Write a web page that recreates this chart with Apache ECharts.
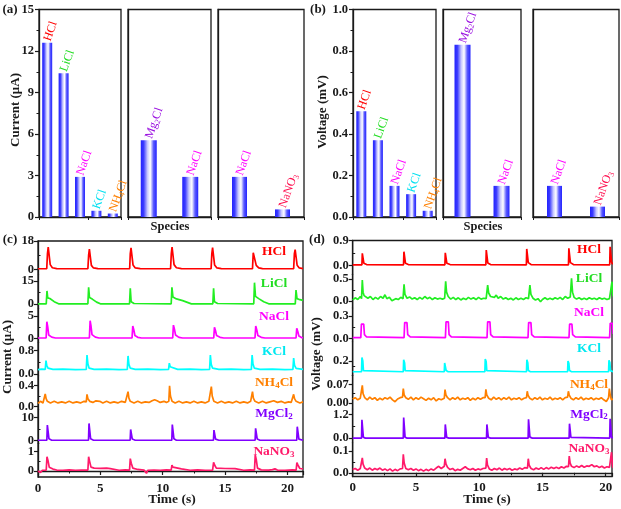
<!DOCTYPE html>
<html><head><meta charset="utf-8">
<script src="https://cdn.jsdelivr.net/npm/echarts@6/dist/echarts.min.js"></script>
<style>html,body{margin:0;padding:0;background:#fff}#c{width:621px;height:509px}</style>
</head><body><div id="c"></div>
<script>
// ---------- DATA ----------
const catsA1 = ['HCl','LiCl','NaCl','KCl','NH4Cl'];
const catsA2 = ['Mg2Cl','NaCl'];
const catsA3 = ['NaCl','NaNO3'];
const currentA1 = [12.6,10.4,2.9,0.45,0.25];
const currentA2 = [5.55,2.9];
const currentA3 = [2.9,0.55];
const voltageB1 = [0.51,0.37,0.15,0.11,0.03];
const voltageB2 = [0.83,0.15];
const voltageB3 = [0.15,0.05];

const traceNames = ['HCl','LiCl','NaCl','KCl','NH4Cl','MgCl2','NaNO3'];
const cTopTicks = [18,15,5,0.8,0.4,10,1];
const cTickText = [['0','18'],['0','15'],['0','5'],['0.0','0.8'],['0.0','0.4'],['0','10'],['0','1']];
const dTopTicks = [0.9,0.5,0.3,0.2,0.07,1.2,0.1];
const dTickText = [['0.0','0.9'],['0.0','0.5'],['0.0','0.3'],['0.0','0.2'],['0.00','0.07'],['0.0','1.2'],['0.0','0.1']];

// current traces (µA) vs time (s)
const cHCl = [[0,0.4],[0.7,0.4],[0.76,10],[0.82,14.2],[0.9,13.5],[0.98,3],[1.15,1],[1.5,0.5],[4.0,0.4],[4.06,9],[4.12,12.8],[4.2,12.2],[4.28,2.5],[4.45,0.9],[4.8,0.5],[7.35,0.4],[7.4,10],[7.46,13.6],[7.54,12.8],[7.62,2.8],[7.8,0.9],[8.2,0.5],[10.63,0.4],[10.69,10],[10.75,14.2],[10.83,13.5],[10.91,3],[11.1,1],[11.5,0.5],[13.88,0.4],[13.94,10],[14.0,13.8],[14.08,13.1],[14.16,2.8],[14.35,0.9],[14.7,0.5],[17.2,0.4],[17.26,10.5],[17.32,11.1],[17.42,10.8],[17.5,2.5],[17.7,0.9],[18.0,0.5],[20.5,0.4],[20.56,10],[20.62,12.5],[20.7,11.8],[20.78,2.6],[20.95,0.9],[21.25,0.5]];
const cLiCl = [[0,0.1],[0.66,0.1],[0.72,8.5],[0.78,4],[0.95,3.6],[1.3,1.5],[1.65,0.1],[4.0,0.1],[4.06,10.9],[4.13,4.2],[4.35,3.2],[4.7,1.2],[5.0,0.1],[7.34,0.1],[7.4,10.2],[7.47,1.5],[7.7,0.3],[10.68,0.1],[10.74,10.9],[10.82,4.5],[11.1,3.3],[11.6,2.2],[12.3,0.1],[14.02,0.1],[14.08,10.2],[14.15,1.5],[14.4,0.3],[17.3,0.1],[17.36,13.9],[17.44,5],[17.7,3.5],[18.1,1.5],[18.5,0.1],[20.63,0.1],[20.69,9.1],[20.77,3.5],[21.0,2.8],[21.25,2.4]];
const cNaCl = [[0,0.15],[0.65,0.15],[0.71,3.75],[0.78,2.6],[0.86,0.8],[1.1,0.35],[1.4,0.15],[4.12,0.15],[4.18,3.97],[4.25,2.8],[4.33,0.9],[4.6,0.35],[4.9,0.15],[7.54,0.15],[7.6,2.8],[7.68,2],[7.77,0.7],[8.0,0.3],[8.3,0.15],[10.8,0.15],[10.86,3.0],[10.94,2.1],[11.03,0.8],[11.3,0.3],[11.6,0.15],[14.09,0.15],[14.15,2.5],[14.23,1.8],[14.32,0.7],[14.6,0.3],[14.9,0.15],[17.4,0.15],[17.46,2.8],[17.54,2],[17.63,0.7],[17.9,0.3],[18.2,0.15],[20.69,0.15],[20.75,2.3],[20.83,1.6],[20.92,0.6],[21.1,0.3],[21.25,0.15]];
const cKCl = [[0,0.15],[0.3,0.17],[0.58,0.16],[0.64,0.46],[0.7,0.3],[0.8,0.2],[1.2,0.16],[2.0,0.17],[3.0,0.15],[3.87,0.16],[3.93,0.65],[4.0,0.35],[4.1,0.2],[4.5,0.16],[5.5,0.17],[6.5,0.15],[7.16,0.16],[7.22,0.62],[7.29,0.33],[7.4,0.2],[7.8,0.16],[8.8,0.17],[9.8,0.15],[10.47,0.16],[10.53,0.37],[10.6,0.25],[10.7,0.19],[11.2,0.16],[12.2,0.17],[13.1,0.15],[13.76,0.16],[13.82,0.65],[13.89,0.33],[14.0,0.2],[14.5,0.16],[15.5,0.17],[16.5,0.15],[17.11,0.16],[17.17,0.65],[17.24,0.34],[17.35,0.2],[17.8,0.16],[18.8,0.17],[19.8,0.15],[20.44,0.16],[20.5,0.55],[20.57,0.3],[20.7,0.19],[21.25,0.16]];
const cNH4Cl = [[0,0.06],[0.2,0.1],[0.4,0.07],[0.52,0.09],[0.58,0.24],[0.65,0.15],[0.75,0.1],[1.0,0.07],[1.3,0.1],[1.6,0.07],[1.9,0.09],[2.2,0.07],[2.5,0.1],[2.8,0.07],[3.1,0.09],[3.4,0.07],[3.7,0.1],[3.87,0.09],[3.93,0.23],[4.0,0.15],[4.15,0.1],[4.4,0.08],[4.65,0.11],[4.8,0.14],[4.95,0.1],[5.2,0.07],[5.5,0.1],[5.8,0.07],[6.1,0.09],[6.4,0.07],[6.7,0.1],[7.0,0.08],[7.16,0.09],[7.22,0.28],[7.29,0.16],[7.4,0.1],[7.7,0.07],[8.0,0.1],[8.3,0.07],[8.6,0.09],[8.9,0.08],[9.15,0.11],[9.35,0.13],[9.55,0.11],[9.8,0.08],[10.1,0.1],[10.3,0.08],[10.49,0.1],[10.55,0.39],[10.62,0.2],[10.75,0.1],[11.0,0.07],[11.3,0.1],[11.6,0.07],[11.9,0.09],[12.2,0.07],[12.5,0.1],[12.8,0.07],[13.1,0.09],[13.4,0.07],[13.7,0.1],[13.84,0.09],[13.9,0.375],[13.97,0.2],[14.1,0.1],[14.4,0.07],[14.7,0.1],[15.0,0.07],[15.3,0.09],[15.6,0.07],[15.9,0.1],[16.2,0.07],[16.5,0.09],[16.8,0.07],[17.05,0.1],[17.14,0.09],[17.2,0.28],[17.27,0.16],[17.4,0.1],[17.7,0.07],[18.0,0.1],[18.3,0.07],[18.6,0.09],[18.9,0.11],[19.2,0.08],[19.5,0.1],[19.8,0.07],[20.1,0.09],[20.3,0.08],[20.44,0.09],[20.5,0.23],[20.57,0.15],[20.7,0.1],[21.0,0.07],[21.25,0.09]];
const cMgCl2 = [[0,0.2],[0.71,0.2],[0.75,6.8],[0.83,6.3],[0.88,0.8],[1.1,0.2],[4.05,0.2],[4.09,7.5],[4.17,7],[4.22,0.8],[4.45,0.2],[7.39,0.2],[7.43,4.9],[7.51,4.5],[7.56,0.7],[7.8,0.2],[10.73,0.2],[10.77,7.0],[10.85,6.5],[10.9,0.8],[11.1,0.2],[14.07,0.2],[14.11,4.6],[14.19,4.2],[14.24,0.7],[14.5,0.2],[17.41,0.2],[17.45,5.4],[17.53,5.0],[17.58,0.7],[17.8,0.2],[20.75,0.2],[20.79,6.1],[20.87,5.7],[20.92,0.7],[21.25,0.2]];
const cNaNO3 = [[0,0.0],[0.2,-0.08],[0.35,0.04],[0.66,0.05],[0.72,0.74],[0.8,0.55],[0.9,0.2],[1.2,0.1],[1.5,0.05],[2.0,0.04],[2.5,0.06],[3.0,0.04],[3.5,0.05],[4.0,0.05],[4.06,0.74],[4.14,0.5],[4.25,0.2],[4.5,0.15],[5.0,0.14],[5.5,0.15],[5.8,0.12],[5.9,0.05],[6.5,0.04],[7.0,0.06],[7.34,0.05],[7.4,0.64],[7.48,0.4],[7.6,0.15],[8.0,0.08],[8.5,0.05],[8.7,-0.12],[8.8,0.04],[9.3,0.05],[9.8,0.04],[10.3,0.06],[10.68,0.05],[10.74,0.31],[10.82,0.2],[10.95,0.12],[11.5,0.11],[11.6,0.05],[12.2,0.04],[12.8,0.06],[13.4,0.04],[14.0,0.05],[14.08,0.45],[14.17,0.3],[14.3,0.15],[15.0,0.13],[15.8,0.12],[15.9,0.05],[16.5,0.04],[17.0,0.06],[17.36,0.05],[17.42,0.83],[17.5,0.6],[17.6,0.15],[17.9,0.06],[18.5,0.05],[18.8,0.07],[19.0,0.11],[19.2,0.05],[19.8,0.04],[20.4,0.06],[20.7,0.05],[20.76,0.43],[20.85,0.3],[21.0,0.13],[21.25,0.11]];

// voltage traces (mV) vs time (s)
const dHCl = [[0,0.02],[0.73,0.02],[0.76,0.44],[0.84,0.42],[0.88,0.08],[1.1,0.03],[4.02,0.02],[4.05,0.5],[4.13,0.48],[4.17,0.08],[4.4,0.03],[7.29,0.02],[7.32,0.46],[7.4,0.44],[7.44,0.08],[7.7,0.03],[10.53,0.02],[10.56,0.56],[10.64,0.53],[10.68,0.09],[10.9,0.03],[13.73,0.02],[13.76,0.6],[13.84,0.57],[13.88,0.1],[14.1,0.03],[17.06,0.02],[17.09,0.62],[17.17,0.59],[17.21,0.1],[17.45,0.03],[20.32,0.02],[20.35,0.68],[20.43,0.64],[20.47,0.1],[20.6,0.04]];
const dLiCl = [[0,0.02],[0.2,0.07],[0.4,0.03],[0.6,0.1],[0.7,0.05],[0.76,0.48],[0.82,0.2],[0.9,0.12],[1.05,0.15],[1.2,0.06],[1.4,0.1],[1.6,0.03],[1.8,0.08],[2.0,0.04],[2.2,0.1],[2.4,0.06],[2.55,0.14],[2.7,0.05],[2.9,0.08],[3.1,0.0],[3.25,-0.02],[3.4,0.05],[3.6,0.03],[3.8,0.08],[3.98,0.05],[4.06,0.38],[4.13,0.15],[4.3,0.06],[4.5,0.09],[4.7,0.04],[4.9,0.07],[5.1,0.03],[5.3,0.08],[5.5,0.04],[5.7,0.1],[5.9,0.05],[6.1,0.08],[6.3,0.03],[6.5,0.07],[6.7,0.04],[6.9,0.06],[7.1,0.04],[7.27,0.06],[7.35,0.45],[7.42,0.2],[7.55,0.1],[7.75,0.04],[7.95,0.08],[8.15,0.03],[8.35,0.07],[8.55,0.02],[8.75,0.06],[8.95,0.03],[9.15,0.08],[9.35,0.04],[9.55,0.07],[9.75,0.03],[9.95,0.08],[10.15,0.04],[10.35,0.06],[10.55,0.05],[10.67,0.36],[10.75,0.18],[10.9,0.1],[11.05,0.14],[11.2,0.08],[11.35,0.13],[11.5,0.06],[11.7,0.1],[11.9,0.04],[12.1,0.07],[12.3,0.03],[12.5,0.06],[12.7,0.02],[12.9,0.07],[13.1,0.03],[13.3,0.06],[13.5,0.03],[13.7,0.07],[13.9,0.05],[14.01,0.36],[14.09,0.15],[14.25,0.06],[14.45,0.02],[14.65,0.05],[14.85,-0.02],[15.0,0.03],[15.2,0.07],[15.4,0.03],[15.6,0.06],[15.8,0.03],[16.0,0.07],[16.2,0.04],[16.4,0.08],[16.6,0.03],[16.8,0.1],[17.0,0.06],[17.2,0.09],[17.3,0.52],[17.38,0.2],[17.5,0.08],[17.7,0.04],[17.9,0.07],[18.1,0.03],[18.3,0.06],[18.5,0.03],[18.7,0.07],[18.9,0.04],[19.1,0.06],[19.3,0.03],[19.5,0.07],[19.7,0.04],[19.9,0.06],[20.1,0.03],[20.3,0.05],[20.42,0.06],[20.5,0.44],[20.56,0.15],[20.6,0.1]];
const dNaCl = [[0,0.01],[0.64,0.01],[0.69,0.19],[0.75,0.2],[0.87,0.19],[0.93,0.05],[1.1,0.02],[4.06,0.01],[4.11,0.21],[4.17,0.22],[4.29,0.21],[4.35,0.05],[4.55,0.02],[7.33,0.01],[7.38,0.22],[7.44,0.23],[7.56,0.22],[7.62,0.05],[7.8,0.02],[10.62,0.01],[10.67,0.22],[10.73,0.23],[10.85,0.22],[10.91,0.05],[11.1,0.02],[13.86,0.01],[13.91,0.21],[13.97,0.22],[14.09,0.21],[14.15,0.05],[14.35,0.02],[17.1,0.01],[17.15,0.19],[17.21,0.2],[17.33,0.19],[17.39,0.05],[17.6,0.02],[20.31,0.01],[20.36,0.2],[20.42,0.216],[20.54,0.2],[20.6,0.06]];
const dKCl = [[0,0.01],[0.7,0.01],[0.73,0.26],[0.8,0.2],[0.85,0.03],[1.0,0.01],[4.0,0.01],[4.03,0.22],[4.1,0.17],[4.15,0.03],[4.3,0.01],[7.24,0.01],[7.27,0.165],[7.34,0.13],[7.39,0.03],[7.55,0.01],[10.45,0.01],[10.48,0.235],[10.55,0.19],[10.6,0.03],[10.75,0.01],[13.74,0.01],[13.77,0.22],[13.84,0.17],[13.89,0.03],[14.05,0.01],[16.99,0.01],[17.02,0.2],[17.09,0.16],[17.14,0.03],[17.3,0.01],[20.23,0.01],[20.26,0.21],[20.33,0.17],[20.38,0.03],[20.6,0.01]];
const dNH4Cl = [[0,0.015],[0.2,0.02],[0.4,0.012],[0.6,0.018],[0.7,0.02],[0.76,0.066],[0.82,0.035],[0.95,0.02],[1.15,0.012],[1.35,0.022],[1.55,0.014],[1.75,0.02],[1.95,0.01],[2.15,0.018],[2.35,0.012],[2.55,0.02],[2.75,0.015],[2.95,0.022],[3.15,0.012],[3.35,0.005],[3.55,0.015],[3.75,0.02],[3.94,0.022],[4.0,0.054],[4.07,0.03],[4.2,0.02],[4.4,0.014],[4.6,0.022],[4.8,0.012],[5.0,0.02],[5.2,0.014],[5.4,0.022],[5.6,0.016],[5.8,0.01],[6.0,0.018],[6.2,0.012],[6.4,0.02],[6.6,0.008],[6.8,0.016],[7.0,0.012],[7.24,0.018],[7.3,0.05],[7.37,0.03],[7.5,0.02],[7.7,0.012],[7.9,0.02],[8.1,0.014],[8.3,0.022],[8.5,0.012],[8.7,0.018],[8.9,0.014],[9.1,0.02],[9.3,0.01],[9.5,0.018],[9.7,0.012],[9.9,0.02],[10.1,0.014],[10.3,0.02],[10.47,0.02],[10.53,0.051],[10.6,0.03],[10.75,0.018],[10.95,0.012],[11.15,0.022],[11.35,0.014],[11.55,0.02],[11.75,0.012],[11.95,0.02],[12.15,0.014],[12.35,0.022],[12.55,0.012],[12.75,0.018],[12.95,0.014],[13.15,0.02],[13.35,0.012],[13.55,0.018],[13.74,0.02],[13.8,0.044],[13.87,0.028],[14.0,0.018],[14.2,0.012],[14.4,0.02],[14.6,0.014],[14.8,0.022],[15.0,0.012],[15.2,0.018],[15.4,0.014],[15.6,0.022],[15.8,0.012],[16.0,0.018],[16.2,0.014],[16.4,0.02],[16.6,0.012],[16.8,0.02],[16.99,0.022],[17.05,0.044],[17.12,0.03],[17.25,0.018],[17.45,0.012],[17.65,0.02],[17.85,0.014],[18.05,0.022],[18.25,0.012],[18.45,0.018],[18.65,0.014],[18.85,0.02],[19.05,0.012],[19.25,0.018],[19.45,0.014],[19.65,0.02],[19.85,0.012],[20.05,0.006],[20.2,0.0],[20.23,0.02],[20.29,0.054],[20.36,0.03],[20.45,0.012],[20.6,0.015]];
const dMgCl2 = [[0,0.0],[0.7,0.0],[0.73,0.94],[0.8,0.88],[0.84,0.05],[1.0,0.0],[4.0,0.0],[4.03,1.05],[4.1,0.98],[4.14,0.05],[4.3,0.0],[7.29,0.0],[7.32,0.7],[7.39,0.65],[7.43,0.04],[7.6,0.0],[10.58,0.0],[10.61,0.7],[10.68,0.65],[10.72,0.04],[10.9,0.0],[13.87,0.0],[13.9,0.96],[13.97,0.9],[14.01,0.05],[14.2,0.0],[17.11,0.0],[17.14,0.74],[17.21,0.69],[17.25,0.04],[17.4,0.0],[20.32,0.0],[20.35,0.99],[20.42,0.93],[20.46,0.05],[20.6,0.0]];
const dNaNO3 = [[0,0.015],[0.2,0.02],[0.4,0.012],[0.6,0.02],[0.7,0.022],[0.76,0.069],[0.82,0.04],[0.95,0.022],[1.15,0.014],[1.35,0.022],[1.55,0.012],[1.75,0.02],[1.95,0.014],[2.15,0.022],[2.35,0.012],[2.55,0.018],[2.75,0.01],[2.95,0.018],[3.15,0.008],[3.35,0.016],[3.55,0.01],[3.75,0.018],[3.94,0.02],[4.0,0.085],[4.07,0.045],[4.2,0.02],[4.4,0.014],[4.6,0.02],[4.8,0.012],[5.0,0.018],[5.2,0.01],[5.4,0.016],[5.6,0.008],[5.8,0.016],[6.0,0.01],[6.2,0.018],[6.4,0.012],[6.6,0.022],[6.8,0.03],[7.0,0.02],[7.24,0.03],[7.3,0.065],[7.38,0.04],[7.5,0.025],[7.7,0.015],[7.9,0.02],[8.1,0.01],[8.3,0.016],[8.5,0.012],[8.7,0.02],[8.9,0.028],[9.1,0.018],[9.3,0.014],[9.5,0.02],[9.7,0.012],[9.9,0.018],[10.1,0.014],[10.3,0.02],[10.53,0.022],[10.59,0.068],[10.66,0.035],[10.8,0.018],[11.0,0.012],[11.2,0.02],[11.4,0.014],[11.6,0.022],[11.8,0.012],[12.0,0.02],[12.2,0.014],[12.4,0.02],[12.6,0.012],[12.8,0.018],[13.0,0.014],[13.2,0.022],[13.4,0.016],[13.6,0.024],[13.82,0.022],[13.88,0.065],[13.95,0.035],[14.1,0.02],[14.3,0.014],[14.5,0.022],[14.7,0.016],[14.9,0.024],[15.1,0.016],[15.3,0.024],[15.5,0.018],[15.7,0.026],[15.9,0.02],[16.1,0.026],[16.3,0.02],[16.5,0.028],[16.7,0.022],[16.9,0.03],[17.06,0.028],[17.12,0.077],[17.19,0.045],[17.3,0.03],[17.5,0.024],[17.7,0.032],[17.9,0.026],[18.1,0.034],[18.3,0.026],[18.5,0.032],[18.7,0.03],[18.9,0.038],[19.1,0.028],[19.3,0.032],[19.5,0.024],[19.7,0.03],[19.9,0.022],[20.1,0.028],[20.3,0.025],[20.4,0.03],[20.46,0.095],[20.53,0.04],[20.6,0.022]];

const cTraces = [cHCl,cLiCl,cNaCl,cKCl,cNH4Cl,cMgCl2,cNaNO3];
const dTraces = [dHCl,dLiCl,dNaCl,dKCl,dNH4Cl,dMgCl2,dNaNO3];

// ---------- STYLE / LAYOUT ----------
const FONT = '"Liberation Serif","Times New Roman",serif';
const INK = '#1a1a1a';
const nameColor = {HCl:'#ff0000', LiCl:'#22dd22', NaCl:'#ff00ff', KCl:'#00e0f0', NH4Cl:'#ff8000', Mg2Cl:'#9a10e0', MgCl2:'#8000ff', NaNO3:'#ff1050'};
const traceColor = ['#ff0000','#22ee22','#ff00ff','#00ffff','#ff8000','#8000ff','#ff1a6a'];
const traceLabelColor = ['#ff0000','#22dd22','#ff00ff','#00e8f0','#ff8000','#8000ff','#ff1a6a'];

const grids=[], xAxes=[], yAxes=[], series=[], graphics=[];
const subFmt = s => s.replace(/(\d)/g,'{s|$1}');

function barGradient(){
  return new echarts.graphic.LinearGradient(0,0,1,0,[
    {offset:0,color:'#2323ff'},{offset:0.18,color:'#3b3bff'},{offset:0.42,color:'#c8c8ff'},
    {offset:0.6,color:'#ffffff'},{offset:0.8,color:'#5a5aff'},{offset:1,color:'#2323ff'}]);
}

function barPanel(left, width, cats, vals, yMax, yInt, fmt, showY, barW){
  const gi = grids.length;
  grids.push({left:left, top:9.5, width:width, height:207.5, show:true, borderColor:INK, borderWidth:1.3, backgroundColor:'transparent'});
  xAxes.push({gridIndex:gi, type:'category', data:cats, boundaryGap:true,
    axisLine:{show:true,lineStyle:{color:INK,width:1.3}}, axisTick:{show:true,length:3,lineStyle:{color:INK}},
    axisLabel:{show:false}, splitLine:{show:false}});
  yAxes.push({gridIndex:gi, type:'value', min:0, max:yMax, interval:yInt,
    axisLine:{show:true,lineStyle:{color:INK,width:1.3}},
    axisTick:{show:showY,length:4,lineStyle:{color:INK,width:1.2}},
    minorTick:{show:showY,splitNumber:2,length:2.5,lineStyle:{color:INK,width:1}},
    axisLabel:{show:showY,formatter:fmt,fontFamily:FONT,fontWeight:'bold',fontSize:12.5,color:INK,margin:5},
    splitLine:{show:false}});
  series.push({type:'bar', xAxisIndex:gi, yAxisIndex:gi, barWidth:barW,
    itemStyle:{color:barGradient()},
    data: vals.map((v,i)=>{const c=nameColor[cats[i]];return {value:v,label:{color:c,rich:{s:{fontSize:8,color:c,fontFamily:FONT,verticalAlign:'bottom',lineHeight:14}}}};}),
    label:{show:true, position:'top', rotate:70, align:'left', verticalAlign:'middle', distance:2,
      fontFamily:FONT, fontSize:12, lineHeight:14,
      formatter:p=>subFmt(cats[p.dataIndex])}});
}

barPanel(39, 82, catsA1, currentA1, 15, 3, v=>String(v), true, 10);
barPanel(128, 83, catsA2, currentA2, 15, 3, v=>String(v), false, 16);
barPanel(218, 86, catsA3, currentA3, 15, 3, v=>String(v), false, 15);
barPanel(353, 83, catsA1, voltageB1, 1.0, 0.2, v=>v.toFixed(1), true, 10);
barPanel(443, 78, catsA2, voltageB2, 1.0, 0.2, v=>v.toFixed(1), false, 16);
barPanel(533, 86, catsA3, voltageB3, 1.0, 0.2, v=>v.toFixed(1), false, 15);

// trace panels
const cRange = {min:[-3.4,-2.9,-0.76,-0.064,-0.054,-1.13,-0.31], max:[18,19.1,6.67,1.094,0.576,13.53,1.436]};
const dRange = {min:[-0.323,-0.163,-0.042,-0.054,-0.0225,-0.239,-0.017], max:[0.907,0.612,0.405,0.541,0.1034,1.487,0.1386]};

function tracePanel(L, T, R, B, xMax, traces, range, tops, tickText, labelX, labelDy){
  const h = (B-T)/7;
  const fi = grids.length;
  grids.push({left:L, top:T, width:R-L, height:B-T, show:true, borderColor:INK, borderWidth:1.3});
  xAxes.push({gridIndex:fi, type:'value', show:false, min:0, max:1});
  yAxes.push({gridIndex:fi, type:'value', show:false, min:0, max:1});
  for(let i=0;i<7;i++){
    const gi = grids.length;
    const gTop = T + i*h;
    grids.push({left:L, top:gTop, width:R-L, height:h, show:false});
    const last = i===6;
    xAxes.push({gridIndex:gi, type:'value', min:0, max:xMax, interval:5, show:last,
      axisLine:{show:last,lineStyle:{color:INK,width:1.3}},
      axisTick:{show:last,length:4,lineStyle:{color:INK,width:1.2}},
      minorTick:{show:last,splitNumber:2,length:2.5,lineStyle:{color:INK}},
      axisLabel:{show:last,showMaxLabel:false,fontFamily:FONT,fontWeight:'bold',fontSize:13,color:INK,margin:5},
      splitLine:{show:false}});
    const top = tops[i], txt = tickText[i];
    const yi = yAxes.length;
    yAxes.push({gridIndex:gi, type:'value', min:range.min[i], max:range.max[i],
      axisLine:{show:true,onZero:false,lineStyle:{color:INK,width:1.3}},
      axisTick:{show:true,length:4,customValues:[0,top],lineStyle:{color:INK,width:1.2}},
      axisLabel:{show:true,customValues:[0,top],formatter:v=>(Math.abs(v)<1e-9?txt[0]:txt[1]),
        fontFamily:FONT,fontWeight:'bold',fontSize:12.5,color:INK,margin:4},
      splitLine:{show:false}});
    yAxes.push({gridIndex:gi, type:'value', min:range.min[i], max:range.max[i],
      axisLine:{show:false}, axisLabel:{show:false}, splitLine:{show:false},
      axisTick:{show:true,length:2.5,customValues:[top/2],lineStyle:{color:INK,width:1}}});
    series.push({type:'line', xAxisIndex:xAxes.length-1, yAxisIndex:yi, data:traces[i],
      showSymbol:false, symbol:'none', clip:true, lineStyle:{color:traceColor[i],width:1.7}});
    const c = traceLabelColor[i];
    graphics.push({type:'text', x:labelX, y:gTop+labelDy[i],
      style:{text:subFmt(traceNames[i]), fill:c, font:'bold 13.5px '+FONT, align:'center', verticalAlign:'middle',
        textAlign:'center', textVerticalAlign:'middle',
        rich:{s:{fontSize:9,fontWeight:'bold',fontFamily:FONT,fill:c,verticalAlign:'bottom',lineHeight:15}}}});
  }
}
tracePanel(38, 241, 303, 477, 21.25, cTraces, cRange, cTopTicks, cTickText, 274, [11,8.5,8.5,9,6.5,4,8]);
tracePanel(352.7, 240.5, 612, 476.5, 20.5, dTraces, dRange, dTopTicks, dTickText, 589, [9.5,4.5,5,7,9,5,6]);

function txt(x,y,s,size,rot){
  const o = {type:'text', x:x, y:y, style:{text:s, fill:INK, font:'bold '+size+'px '+FONT, align:'center', verticalAlign:'middle', textAlign:'center', textVerticalAlign:'middle'}};
  if(rot){o.rotation = Math.PI/2;}
  graphics.push(o);
}
txt(10,10,'(a)',13); txt(318,10,'(b)',13); txt(10,240,'(c)',13); txt(317,240,'(d)',13);
txt(16,110,'Current (\u03bcA)',13,true);
txt(323,112,'Voltage (mV)',13,true);
txt(170,227,'Species',12.5); txt(483,227,'Species',12.5);
txt(8,357,'Current (\u03bcA)',13,true);
txt(317,354,'Voltage (mV)',13,true);
txt(172,500,'Time (s)',13.5); txt(487,500,'Time (s)',13.5);

const chart = echarts.init(document.getElementById('c'), null, {renderer:'canvas'});
chart.setOption({animation:false, backgroundColor:'#fff', grid:grids, xAxis:xAxes, yAxis:yAxes, series:series, graphic:graphics});
</script></body></html>
